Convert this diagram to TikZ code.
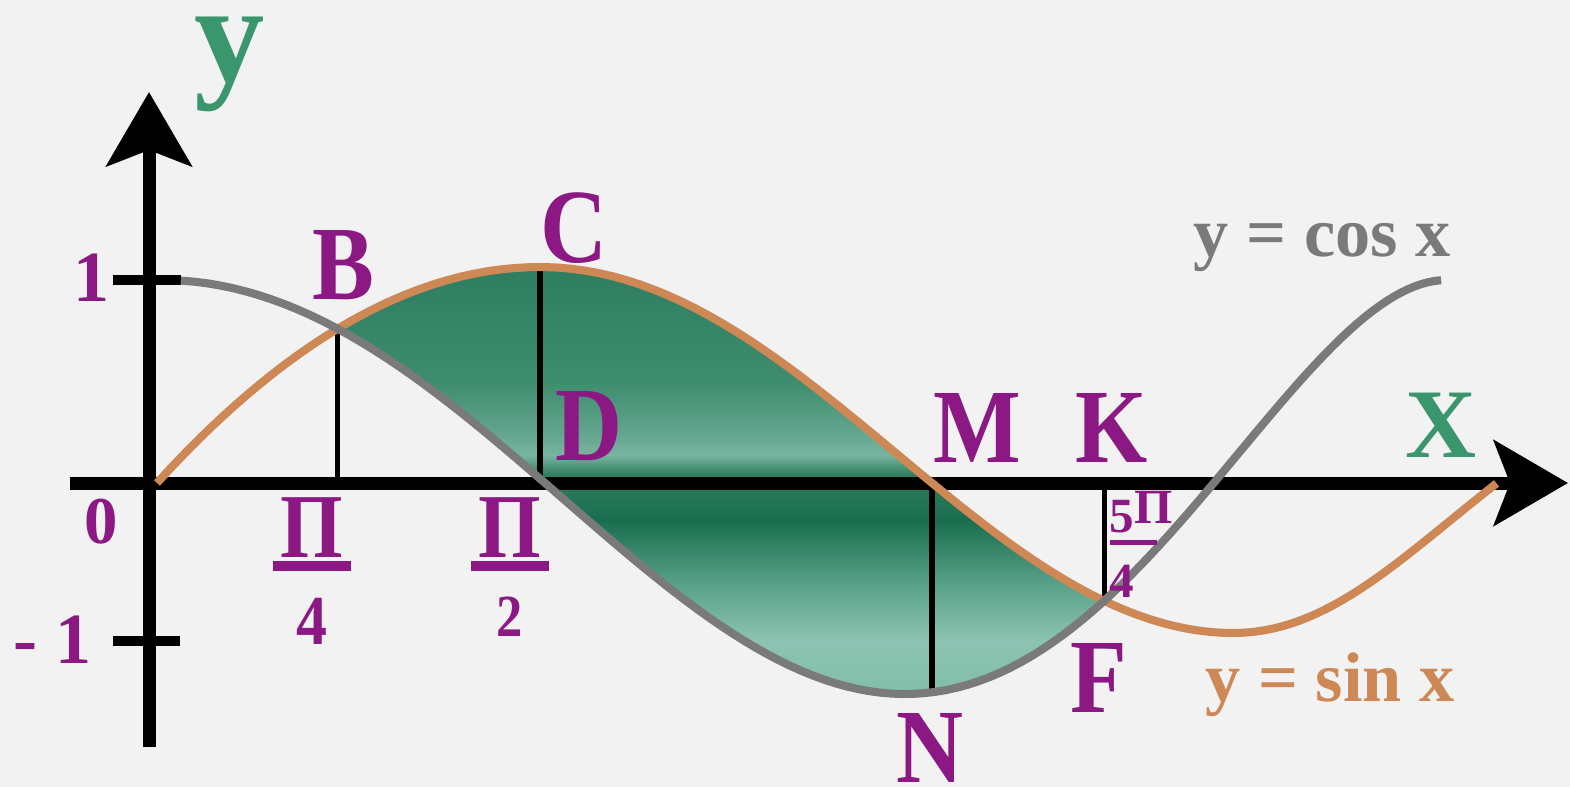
\documentclass[tikz,border=0pt]{standalone}
\usepackage{fontspec}
\setmainfont{Liberation Serif}
\newfontfamily\letterfont[FakeStretch=0.88]{Liberation Serif}
\usetikzlibrary{arrows.meta,intersections}

\definecolor{pointcol}{RGB}{140,24,132}
\definecolor{axiscol}{RGB}{58,150,108}
\definecolor{sincol}{RGB}{206,136,86}
\definecolor{coscol}{RGB}{122,122,122}
\definecolor{paper}{RGB}{242,242,242}

% green band between the two curves
\pgfdeclareverticalshading{malachite}{100bp}{%
  rgb(0bp)=(.51,.745,.667); rgb(25bp)=(.51,.745,.667);
  rgb(31.4bp)=(.55,.765,.70); rgb(38.4bp)=(.33,.62,.52);
  rgb(45.3bp)=(.10,.43,.31); rgb(50.6bp)=(.18,.49,.37);
  rgb(52.9bp)=(.47,.71,.63); rgb(55.8bp)=(.38,.64,.55);
  rgb(61.6bp)=(.24,.55,.43); rgb(75bp)=(.18,.49,.38);
  rgb(100bp)=(.18,.49,.38)}

% Pi over a bar over a digit; #3 = skip before the digit
\newcommand\pifrac[3]{\begin{tabular}[t]{@{}c@{}}#1\\[-22pt]\rule{22pt}{3pt}\\[#3]#2\end{tabular}}

\begin{document}
\begin{tikzpicture}[x=0.1mm,y=-0.1mm,
  declare function={
    sx(\u)=157+383*\u+4.5*\u*(\u-1)-16.667*\u*(\u-1)*(\u-2)+6.4167*\u*(\u-1)*(\u-2)*(\u-3);
    sy(\u)=483-(183+33*cos(90*min(max(\u-1,0),2)))*sin(90*\u);
    cx(\u)=155+397.9*\u-4.38*\u*\u-3.54*\u*\u*\u;
    cy(\u)=483-(203+8*\u-2*\u*\u)*cos(90*\u);
  },
  axis/.style={line width=3.7pt,-{Stealth[length=7.4mm,width=8.5mm,inset=1.6mm]}},
  tick/.style={line width=2.9pt},
  drop/.style={line width=1.5pt},
  sinline/.style={sincol,line width=2.3pt},
  cosline/.style={coscol,line width=2.3pt},
  point/.style={text=pointcol,inner sep=0pt,font=\letterfont\bfseries\fontsize{30}{30}\selectfont},
  num/.style={text=pointcol,inner sep=0pt,font=\bfseries\fontsize{20.5}{20.5}\selectfont},
  frac/.style={text=pointcol,inner sep=0pt,anchor=base,font=\letterfont\bfseries\fontsize{26}{26}\selectfont},
  axlabel/.style={text=axiscol,inner sep=0pt,font=\bfseries\fontsize{28}{28}\selectfont},
  curvelabel/.style={inner sep=0pt,font=\bfseries\fontsize{20}{20}\selectfont}]

\path[use as bounding box,fill=paper] (0,0) rectangle (1570,787);

% axes ends and ticks
\coordinate (O) at (149,483);
\coordinate (xl) at (70,483);
\coordinate (xr) at (1568,483);
\coordinate (yb) at (149,747);
\coordinate (yt) at (149,92);
\coordinate (t1l) at (113,280);
\coordinate (t1r) at (181,280);
\coordinate (tm1l) at (113,641);
\coordinate (tm1r) at (180,641);

% the two curves and the marked points
\path[name path=sinc] plot[domain=0:4,samples=120,variable=\u] ({sx(\u)},{sy(\u)});
\path[name path=cosc] plot[domain=0.065:3.955,samples=120,variable=\u] ({cx(\u)},{cy(\u)});
\path[name intersections={of=sinc and cosc,sort by=sinc,by={B,F}}];
\coordinate (C) at ({sx(1)},{sy(1)});
\coordinate (M) at ({sx(2)},{sy(2)});
\coordinate (N) at ({cx(2)},{cy(2)});

% region between sin and cos
\begin{scope}
  \clip plot[domain=0:4,samples=120,variable=\u] ({sx(\u)},{sy(\u)}) -- (1497,787) -- (157,787) -- cycle;
  \clip plot[domain=0.065:3.955,samples=120,variable=\u] ({cx(\u)},{cy(\u)}) -- (1440,0) -- (181,0) -- cycle;
  \shade[shading=malachite] (300,265) rectangle (1130,695);
\end{scope}

\draw[drop] (B) -- (B |- O);
\draw[drop] (C) -- (C |- O);
\draw[drop] (M) -- (M |- N);
\draw[drop] (F) -- (F |- O);

\draw[axis] (xl) -- (xr);
\draw[axis] (yb) -- (yt);
\draw[tick] (t1l) -- (t1r);
\draw[tick] (tm1l) -- (tm1r);

\draw[sinline] plot[domain=0:4,samples=120,variable=\u] ({sx(\u)},{sy(\u)});
\draw[cosline] plot[domain=0.065:3.955,samples=120,variable=\u] ({cx(\u)},{cy(\u)});

% labels
\node[axlabel,font=\bfseries\fontsize{40}{40}\selectfont] (ylab) at (230,64) {y};
\node[axlabel] (xlab) at (1441,425) {X};
\node[num] (l1) at (92,278) {1};
\node[num] (lm1) at (53,640) {- 1};
\node[num,font=\bfseries\fontsize{19}{19}\selectfont] (l0) at (101,522) {0};
\node[frac] (lpi4) at (312,557) {\pifrac{Π}{\fontsize{20}{20}\selectfont 4}{-5pt}};
\node[frac] (lpi2) at (510,557) {\pifrac{Π}{\fontsize{17}{17}\selectfont 2}{-7.5pt}};
\node[text=pointcol,inner sep=0pt,anchor=base west,font=\bfseries\fontsize{14}{14}\selectfont] (l5pi4) at (1109,532)
  {\begin{tabular}[t]{@{}l@{}}5\raisebox{2.5pt}{Π}\\[-10.3pt]\rule{13.5pt}{1.5pt}\\[0.8pt]4\end{tabular}};
\node[point] (lB) at (343,265) {B};
\node[point] (lC) at (574,228) {C};
\node[point] (lD) at (589,426) {D};
\node[point] (lM) at (977,428) {M};
\node[point] (lK) at (1112,428) {K};
\node[point] (lN) at (930,748) {N};
\node[point] (lF) at (1099,678) {F};
\node[curvelabel,text=coscol] (lcos) at (1322,248) {y = cos x};
\node[curvelabel,text=sincol] (lsin) at (1330,685) {y = sin x};
\end{tikzpicture}
\end{document}
